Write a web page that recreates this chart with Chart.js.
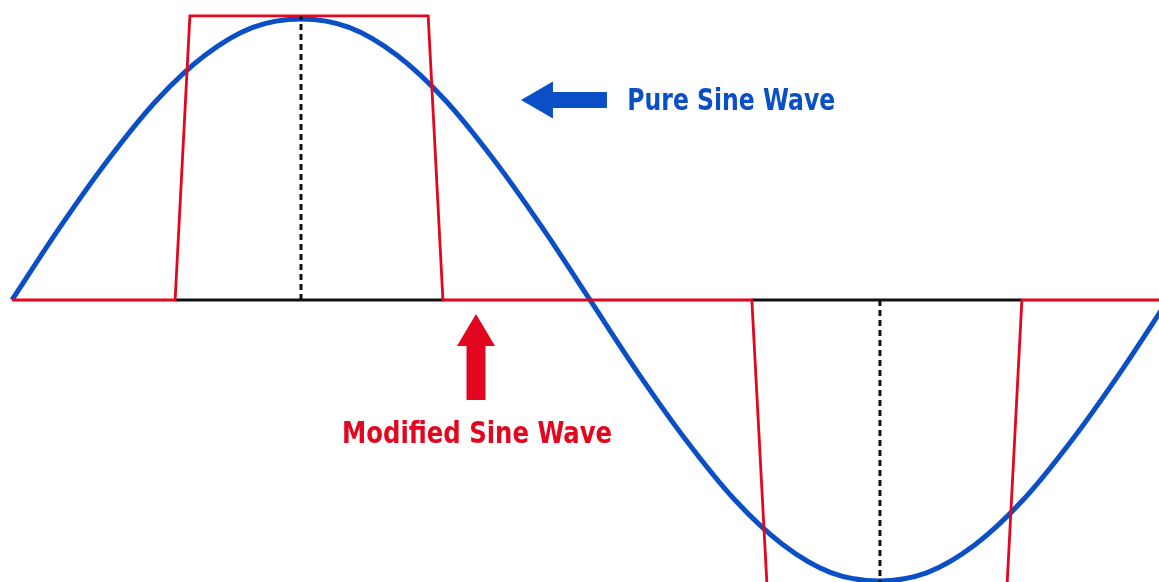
<!DOCTYPE html>
<html>
<head>
<meta charset="utf-8">
<script src="https://cdn.jsdelivr.net/npm/chart.js@4.4.1/dist/chart.umd.min.js"></script>
<style>
  html, body { margin: 0; padding: 0; background: #ffffff; }
  #wrap { width: 1159px; height: 582px; }
</style>
</head>
<body>
<div id="wrap"><canvas id="c" width="1159" height="582"></canvas></div>
<script>
// ---- data (phase angle in degrees, amplitude relative to peak) ----
const sineDegrees = [0,15,30,45,60,75,90,105,120,135,150,165,180,195,210,225,240,255,270,285,300,315,330,345,360];
const pureSine    = [0,0.26,0.5,0.71,0.87,0.97,1,0.97,0.87,0.71,0.5,0.26,0,-0.26,-0.5,-0.71,-0.87,-0.97,-1,-0.97,-0.87,-0.71,-0.5,-0.26,0];
const modDegrees  = [0,50.8,55.4,129.6,134.2,230.4,235.1,309.9,314.5,360];
const modifiedSine= [0,0,1.011,1.011,0,0,-1.011,-1.011,0,0];
const baseSegments = [[50.8,134.2],[230.4,314.5]];
const peakDegrees = [90,270.3];
const peakLevels  = [1.011,-1.011];
const labels = ["Pure Sine Wave","Modified Sine Wave"];

const BLUE = "#0a4fc6";
const RED  = "#e3061f";

const pts = (xs, ys) => xs.map((x,i) => ({x, y: ys[i]}));
const baseData = [];
baseSegments.forEach((s,i) => {
  if (i) baseData.push({x:(baseSegments[i-1][1]+s[0])/2, y:null});
  baseData.push({x:s[0],y:0},{x:s[1],y:0});
});
const dashData = [];
peakDegrees.forEach((d,i) => {
  if (i) dashData.push({x:(peakDegrees[i-1]+d)/2, y:null});
  dashData.push({x:d,y:0},{x:d,y:peakLevels[i]});
});

function arrow(ctx, tipX, tipY, dir, headLen, headHalf, shaftLen, shaftHalf, color) {
  ctx.save();
  ctx.translate(tipX, tipY);
  ctx.rotate(dir);
  ctx.fillStyle = color;
  ctx.beginPath();
  ctx.moveTo(0,0);
  ctx.lineTo(headLen,-headHalf);
  ctx.lineTo(headLen,-shaftHalf);
  ctx.lineTo(headLen+shaftLen,-shaftHalf);
  ctx.lineTo(headLen+shaftLen,shaftHalf);
  ctx.lineTo(headLen,shaftHalf);
  ctx.lineTo(headLen,headHalf);
  ctx.closePath();
  ctx.fill();
  ctx.restore();
}
function fitText(ctx, text, x, y, width, color) {
  ctx.save();
  ctx.font = "bold 30px 'DejaVu Sans Condensed', 'DejaVu Sans', sans-serif";
  ctx.fillStyle = color;
  ctx.textBaseline = "alphabetic";
  ctx.textAlign = "left";
  const w = ctx.measureText(text).width;
  ctx.translate(x, y);
  ctx.scale(width / w, 1);
  ctx.fillText(text, 0, 0);
  ctx.restore();
}

const annotations = {
  id: "annotations",
  afterDatasetsDraw(chart) {
    const ctx = chart.ctx, xs = chart.scales.x, ys = chart.scales.y;
    // blue arrow pointing left + label
    arrow(ctx, xs.getPixelForValue(158.5), ys.getPixelForValue(0.712), 0, 32, 18.5, 54, 8, BLUE);
    fitText(ctx, labels[0], xs.getPixelForValue(191.6), ys.getPixelForValue(0.676), 208, BLUE);
    // red arrow pointing up + label
    arrow(ctx, xs.getPixelForValue(144.5), ys.getPixelForValue(-0.05), Math.PI/2, 32, 19, 54, 9.5, RED);
    fitText(ctx, labels[1], xs.getPixelForValue(102.8), ys.getPixelForValue(-0.509), 270, RED);
  }
};

new Chart(document.getElementById("c"), {
  type: "line",
  data: {
    datasets: [
      { data: pts(sineDegrees, pureSine), borderColor: BLUE, borderWidth: 5, cubicInterpolationMode: "monotone", order: 4 },
      { data: baseData, borderColor: "#111111", borderWidth: 3, spanGaps: false, order: 3 },
      { data: pts(modDegrees, modifiedSine), borderColor: RED, borderWidth: 2.8, tension: 0, order: 2 },
      { data: dashData, borderColor: "#111111", borderWidth: 3, borderDash: [6,4], spanGaps: false, order: 1 }
    ]
  },
  options: {
    responsive: false,
    devicePixelRatio: 1,
    animation: false,
    layout: { padding: 0 },
    elements: { point: { radius: 0, hoverRadius: 0 }, line: { fill: false } },
    plugins: { legend: { display: false }, tooltip: { enabled: false } },
    events: [],
    scales: {
      x: { type: "linear", min: -3.737, max: 357.2, display: false },
      y: { type: "linear", min: -1.0036, max: 1.0676, display: false }
    }
  },
  plugins: [annotations]
});
</script>
</body>
</html>
